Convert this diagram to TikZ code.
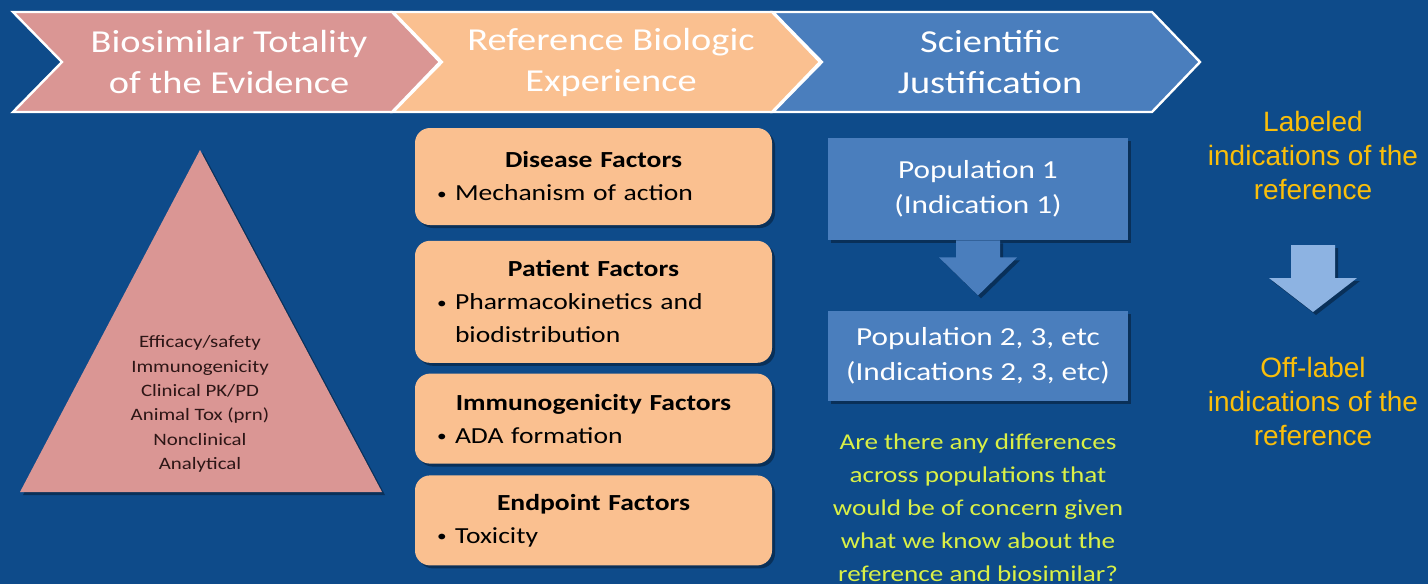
\documentclass[tikz,border=0pt]{standalone}
\usepackage{fontspec}
\setmainfont[FakeStretch=1.2]{Carlito}
\newfontfamily\sidefont{Liberation Sans}
\usetikzlibrary{positioning,shadows}

\definecolor{slidebg}{RGB}{14,75,138}
\definecolor{tvpink}{RGB}{218,150,148}
\definecolor{rbpeach}{RGB}{250,192,144}
\definecolor{sjblue}{RGB}{74,126,189}
\definecolor{asktext}{RGB}{218,240,70}
\definecolor{sidegold}{RGB}{250,190,10}
\definecolor{sidearrow}{RGB}{141,179,226}
\definecolor{tridark}{RGB}{45,22,22}

\newcommand\facthead[1]{\makebox[156.5pt]{\bfseries #1}}
\newcommand\factitem[1]{\makebox[9pt][l]{\raisebox{.6pt}{\fontsize{8}{8}\selectfont\textbullet}}#1}

\tikzset{
  chev/.style    ={draw=white, line width=1.2pt, line join=miter},
  chevtxt/.style ={text=white, align=center, inner sep=0pt,
                   font=\fontsize{16}{20.5}\selectfont},
  shade/.style   ={drop shadow={shadow xshift=1.5pt, shadow yshift=-1.5pt,
                   opacity=.35, fill=black}},
  factor/.style  ={shade, fill=rbpeach, rounded corners=7.5pt, minimum width=178.5pt,
                   text width=156.5pt, inner xsep=11pt, align=left, text=black,
                   font=\fontsize{11.5}{16.5}\selectfont},
  popbox/.style  ={shade, fill=sjblue, minimum width=150pt, align=center, text=white,
                   font=\fontsize{13}{17.5}\selectfont},
  blockarr/.style={shade, fill=sjblue},
  ask/.style     ={text=asktext, align=center, inner sep=0pt,
                   font=\fontsize{11.3}{16.5}\selectfont},
  tritxt/.style  ={text=tridark, align=center, inner sep=0pt,
                   font=\fontsize{8.7}{12.2}\selectfont},
  sidetxt/.style ={text=sidegold, align=center, inner sep=0pt,
                   font=\sidefont\fontsize{14}{17}\selectfont},
}

\begin{document}
\begin{tikzpicture}[x=0.5pt, y=-0.5pt]
\useasboundingbox (0,0) rectangle (1428,584);
\fill[slidebg] (0,0) rectangle (1428,584);

% header chevrons
\foreach \lx/\col in {13/tvpink, 393/rbpeach, 773/sjblue}
  \draw[chev, fill=\col] (\lx,12) -- ++(379,0) -- ++(48,50) -- ++(-48,50)
    -- ++(-379,0) -- ++(49,-50) -- cycle;
\node[chevtxt] (hdtot) at (229,62) {Biosimilar Totality\\of the Evidence};
\node[chevtxt] (hdref) at (611,62) {Reference Biologic\\Experience};
\node[chevtxt] (hdsci) at (990,62) {Scientific\\Justification};

% totality pyramid
\fill[tvpink, shade] (200,150) -- (382,492) -- (20,492) -- cycle;
\node[tritxt] (evid) at (200,404) {Efficacy/safety\\Immunogenicity\\Clinical PK/PD\\
  Animal Tox (prn)\\Nonclinical\\Analytical};

% factor boxes
\node[factor, minimum height=48.5pt] (disease) at (593.5,176.5)
  {\facthead{Disease Factors}\\\factitem{Mechanism of action}};
\node[factor, minimum height=61pt, below=7.5pt of disease] (patient)
  {\facthead{Patient Factors}\\\factitem{Pharmacokinetics and}\\\hspace*{9pt}biodistribution};
\node[factor, minimum height=45pt, below=5pt of patient] (immuno)
  {\facthead{Immunogenicity Factors}\\\factitem{ADA formation}};
\node[factor, minimum height=45pt, below=5.5pt of immuno] (endpt)
  {\facthead{Endpoint Factors}\\\factitem{Toxicity}};

% populations
\node[popbox, minimum height=51pt] (pop1) at (978,189) {Population 1\\(Indication 1)};
\node[popbox, minimum height=45pt, below=35pt of pop1] (popn)
  {Population 2, 3, etc\\(Indications 2, 3, etc)};
\fill[blockarr] (pop1.south) +(-22,0) -- +(-22,17) -- +(-39,17) -- +(0,55)
  -- +(39,17) -- +(22,17) -- +(22,0) -- cycle;
\node[ask, below=16pt of popn] (quest) {Are there any differences\\across populations that\\
  would be of concern given\\what we know about the\\reference and biosimilar?};

% labeled / off-label
\node[sidetxt] (labeled) at (1313,155) {Labeled\\indications of the\\reference};
\node[sidetxt] (offlabel) at (1313,401) {Off-label\\indications of the\\reference};
\coordinate (lblarr) at (1313,245);
\fill[blockarr, fill=sidearrow] (lblarr) +(-22,0) -- +(-22,33) -- +(-44,33) -- +(0,67)
  -- +(44,33) -- +(22,33) -- +(22,0) -- cycle;
\end{tikzpicture}
\end{document}
